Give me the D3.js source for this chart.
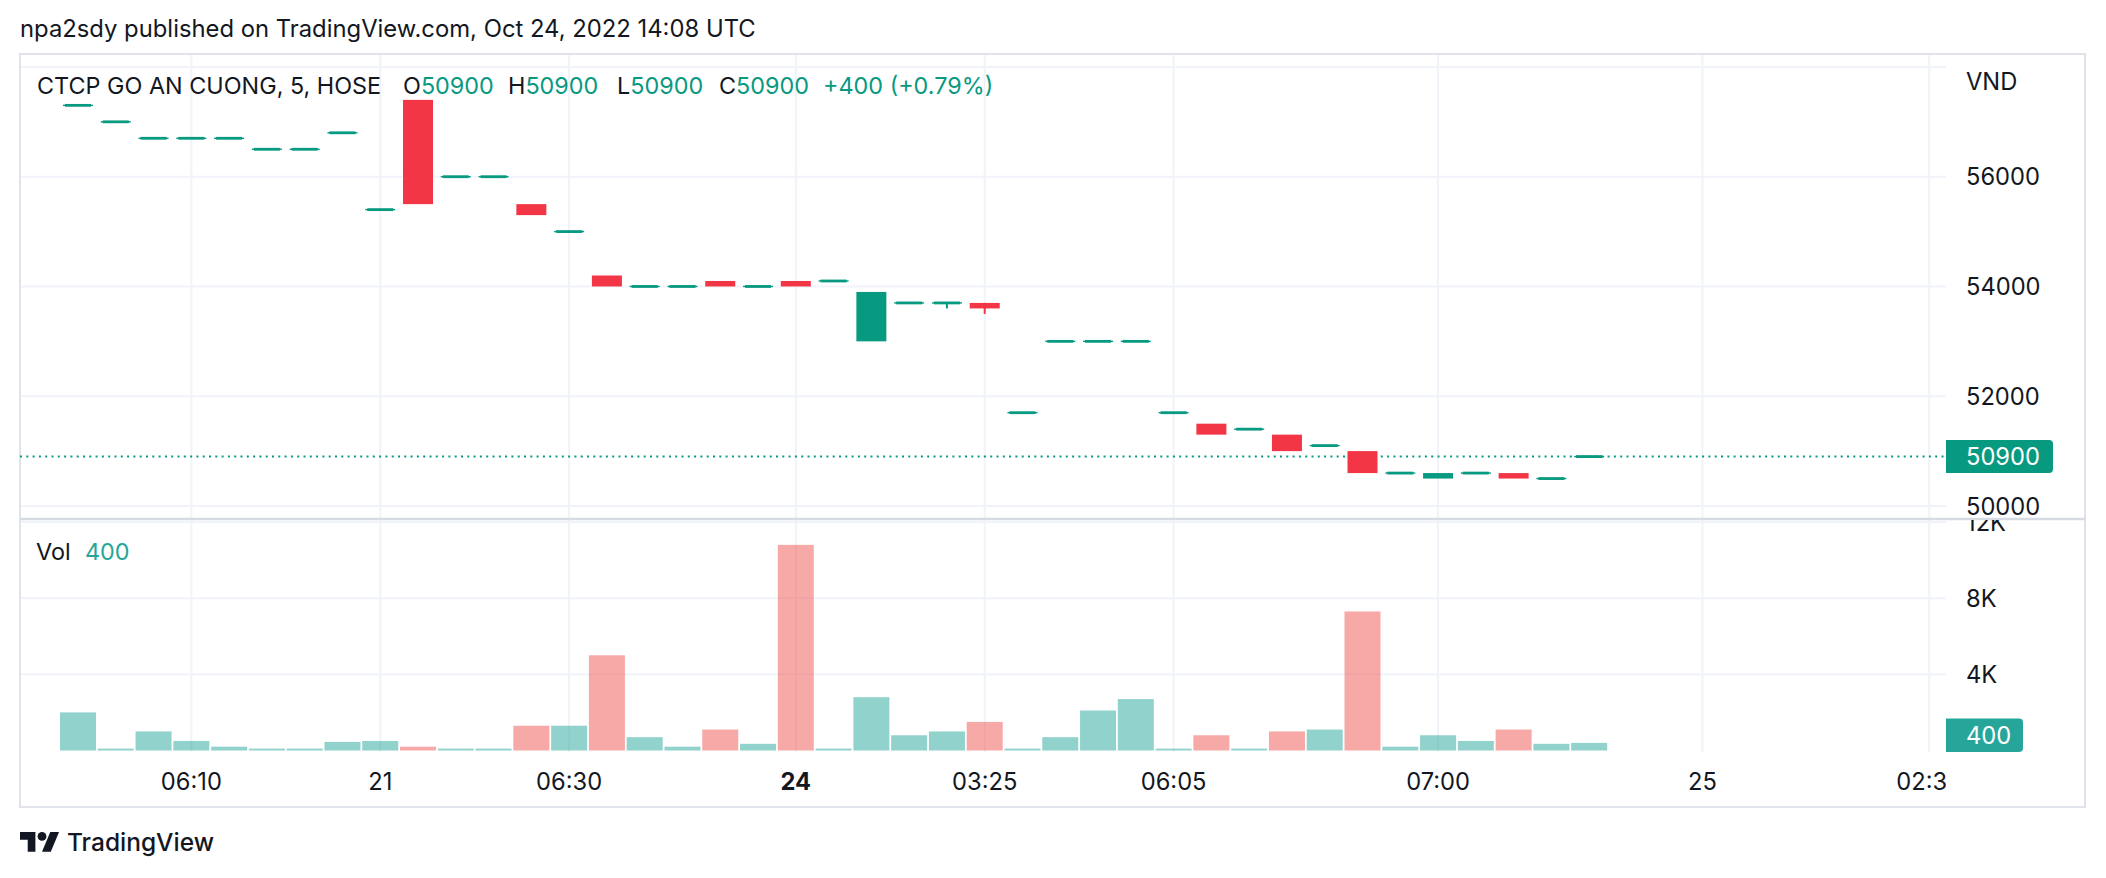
<!DOCTYPE html>
<html><head><meta charset="utf-8">
<script src="https://cdn.jsdelivr.net/npm/d3@7/dist/d3.min.js"></script>
<style>
body{margin:0;background:#fff;}
svg{display:block;font-family:Inter,"Noto Sans",sans-serif;}
</style>
</head><body>
<svg id="c" width="2106" height="878"></svg>
<script>
// ---------- DATA ----------
const opens  = [57300,57000,56700,56700,56700,56500,56500,56800,55400,57400,56000,56000,55500,55000,54200,54000,54000,54100,54000,54100,54100,53000,53700,53700,53700,51700,53000,53000,53000,51700,51500,51400,51300,51100,51000,50600,50500,50600,50600,50500,50900];
const highs  = [57300,57000,56700,56700,56700,56500,56500,56800,55400,57400,56000,56000,55500,55000,54200,54000,54000,54100,54000,54100,54100,53900,53700,53700,53700,51700,53000,53000,53000,51700,51500,51400,51300,51100,51000,50600,50600,50600,50600,50500,50900];
const lows   = [57300,57000,56700,56700,56700,56500,56500,56800,55400,55500,56000,56000,55300,55000,54000,54000,54000,54000,54000,54000,54100,53000,53700,53600,53500,51700,53000,53000,53000,51700,51300,51400,51000,51100,50600,50600,50500,50600,50500,50500,50900];
const closes = [57300,57000,56700,56700,56700,56500,56500,56800,55400,55500,56000,56000,55300,55000,54000,54000,54000,54000,54000,54000,54100,53900,53700,53700,53600,51700,53000,53000,53000,51700,51300,51400,51000,51100,50600,50600,50600,50600,50500,50500,50900];
const volumes = [2000,100,1000,500,200,100,100,450,500,200,100,100,1300,1300,5000,700,200,1100,350,10800,100,2800,800,1000,1500,100,700,2100,2700,100,800,100,1000,1100,7300,200,800,500,1100,350,400];

const timeTickIndex  = [3,8,13,19,24,29,36,43,49];
const timeTickLabels = ["06:10","21","06:30","24","03:25","06:05","07:00","25","02:30"];
const timeTickBold   = [false,false,false,true,false,false,false,false,false];
const priceTicks  = [50000,52000,54000,56000,58000];
const priceTickLabels = ["50000","52000","54000","56000",""];
const volumeTicks = [4000,8000,12000];
const volumeTickLabels = ["4K","8K","12K"];

const titleText = "npa2sdy published on TradingView.com, Oct 24, 2022 14:08 UTC";
const symbolText = "CTCP GO AN CUONG, 5, HOSE";
const lastPrice = 50900, lastVolume = 400, changeText = "+400 (+0.79%)";

// ---------- LAYOUT ----------
const UP="#089981", DOWN="#F23645", TXT="#131722";
const VUP="rgba(38,166,154,0.5)", VDOWN="rgba(239,83,80,0.5)";
const GRID="#F0F3FA", BORDER="#E0E3EB";
const L=20, R=2085, AX=1946, TOP=54, SEP=519, VBOT=752, BOT=807;

const svg = d3.select("#c");

function measure(str, size, weight){
  const t = svg.append("text").attr("font-size",size).attr("font-weight",weight||400).text(str);
  const w = t.node().getComputedTextLength(); t.remove(); return w;
}
const axisSize   = 24*74/measure("56000",24);
const legendSize = 22*73/measure("50900",22);
const titleSize  = 21*736/measure(titleText,21);
const logoSize   = 24*147/measure("TradingView",24,500);

const x  = d3.scaleLinear().domain([0,49]).range([78,1929.2]);
const yP = d3.scaleLinear().domain([50000,56000]).range([506,176.7]);
const yV = d3.scaleLinear().domain([0,12000]).range([750.5,522]);

const defs = svg.append("defs");
defs.append("clipPath").attr("id","cp").append("rect").attr("x",L).attr("y",TOP).attr("width",AX-L).attr("height",SEP-TOP);
defs.append("clipPath").attr("id","cv").append("rect").attr("x",L).attr("y",SEP+1).attr("width",AX-L).attr("height",VBOT-SEP-1);
defs.append("clipPath").attr("id","cva").append("rect").attr("x",AX).attr("y",SEP+1).attr("width",R-AX).attr("height",VBOT-SEP-1);
defs.append("clipPath").attr("id","ct").append("rect").attr("x",L).attr("y",VBOT).attr("width",AX-L).attr("height",BOT-VBOT);

// title
svg.append("text").attr("x",20).attr("y",37).attr("font-size",titleSize).attr("fill",TXT).text(titleText);

// grids
const gp = svg.append("g").attr("clip-path","url(#cp)");
gp.selectAll("line").data(priceTicks).join("line")
  .attr("x1",L).attr("x2",AX).attr("y1",d=>yP(d)).attr("y2",d=>yP(d))
  .attr("stroke",GRID).attr("stroke-width",2);
const gv = svg.append("g").attr("clip-path","url(#cv)");
gv.selectAll("line").data(volumeTicks).join("line")
  .attr("x1",L).attr("x2",AX).attr("y1",d=>yV(d)).attr("y2",d=>yV(d))
  .attr("stroke",GRID).attr("stroke-width",2);
svg.append("g").selectAll("line").data(timeTickIndex).join("line")
  .attr("x1",d=>x(d)).attr("x2",d=>x(d)).attr("y1",TOP).attr("y2",VBOT)
  .attr("stroke",GRID).attr("stroke-width",2);

// frame & separator
svg.append("rect").attr("x",L).attr("y",TOP).attr("width",R-L).attr("height",BOT-TOP)
  .attr("fill","none").attr("stroke",BORDER).attr("stroke-width",2);
svg.append("line").attr("x1",L).attr("x2",R).attr("y1",SEP).attr("y2",SEP)
  .attr("stroke","#D6DAE2").attr("stroke-width",2.5);

// last price dotted line
svg.append("line").attr("x1",L).attr("x2",AX).attr("y1",yP(lastPrice)).attr("y2",yP(lastPrice))
  .attr("stroke",UP).attr("stroke-width",2).attr("stroke-dasharray","2,4.3");

// candles
const idx = d3.range(opens.length);
const cg = svg.append("g").attr("clip-path","url(#cp)");
idx.forEach(i=>{
  const o=opens[i],h=highs[i],l=lows[i],c=closes[i];
  const col = c>=o?UP:DOWN, cx=x(i);
  if(o===c && h===o && l===o){
    cg.append("rect").attr("x",cx-15).attr("y",yP(o)-0.7).attr("width",30).attr("height",1.4).attr("fill",col);
    cg.append("rect").attr("x",cx-13).attr("y",yP(o)-1.4).attr("width",26).attr("height",2.8).attr("fill",col);
    return;
  }
  if(h>Math.max(o,c) || l<Math.min(o,c)){
    cg.append("rect").attr("x",cx-1).attr("y",yP(h)).attr("width",2).attr("height",yP(l)-yP(h)).attr("fill",col);
  }
  if(o===c){
    cg.append("rect").attr("x",cx-15).attr("y",yP(o)-0.7).attr("width",30).attr("height",1.4).attr("fill",col);
    cg.append("rect").attr("x",cx-13).attr("y",yP(o)-1.4).attr("width",26).attr("height",2.8).attr("fill",col);
  } else {
    const t=yP(Math.max(o,c)), b=yP(Math.min(o,c));
    cg.append("rect").attr("x",cx-15).attr("y",t).attr("width",30).attr("height",b-t).attr("fill",col);
  }
});

// volume bars
svg.append("g").attr("clip-path","url(#cv)").selectAll("rect").data(idx).join("rect")
  .attr("x",i=>x(i)-18).attr("width",36)
  .attr("y",i=>yV(volumes[i])).attr("height",i=>yV(0)-yV(volumes[i]))
  .attr("fill",i=>closes[i]>=opens[i]?VUP:VDOWN);

// price axis labels
svg.append("text").attr("x",1966).attr("y",81.5).attr("dy","0.36em").attr("font-size",axisSize).attr("fill",TXT).text("VND");
svg.append("g").selectAll("text").data(priceTicks.filter((d,i)=>priceTickLabels[i])).join("text")
  .attr("x",1966).attr("y",d=>yP(d)).attr("dy","0.36em").attr("font-size",axisSize).attr("fill",TXT)
  .text(d=>priceTickLabels[priceTicks.indexOf(d)]);
// volume axis labels
svg.append("g").attr("clip-path","url(#cva)").selectAll("text").data(volumeTicks).join("text")
  .attr("x",1966).attr("y",d=>yV(d)).attr("dy","0.36em").attr("font-size",axisSize).attr("fill",TXT)
  .text((d,i)=>volumeTickLabels[i]);

function tagPath(x0,y0,w,h,r){
  return `M${x0},${y0}H${x0+w-r}Q${x0+w},${y0} ${x0+w},${y0+r}V${y0+h-r}Q${x0+w},${y0+h} ${x0+w-r},${y0+h}H${x0}Z`;
}
// last price tag
const py = yP(lastPrice);
svg.append("path").attr("d",tagPath(AX,py-16.5,107,33,4)).attr("fill",UP);
svg.append("text").attr("x",1966).attr("y",py).attr("dy","0.36em").attr("font-size",axisSize).attr("fill","#fff").text(d3.format("d")(lastPrice));
// last volume tag
const vy = Math.min(yV(lastVolume)-16.8, VBOT-33.6);
svg.append("path").attr("d",tagPath(AX,vy,77,33.6,4)).attr("fill","#26a69a");
svg.append("text").attr("x",1966).attr("y",vy+16.8).attr("dy","0.36em").attr("font-size",axisSize).attr("fill","#fff").text(lastVolume);

// time axis labels
svg.append("g").attr("clip-path","url(#ct)").selectAll("text").data(timeTickIndex).join("text")
  .attr("x",d=>x(d)).attr("y",790).attr("text-anchor","middle").attr("font-size",axisSize)
  .attr("font-weight",(d,i)=>timeTickBold[i]?700:400).attr("fill",TXT)
  .text((d,i)=>timeTickLabels[i]);

// legend
const lg = svg.append("g").attr("font-size",legendSize);
lg.append("text").attr("x",37).attr("y",94).attr("fill",TXT).text(symbolText);
const ohlc = [["O",opens],["H",highs],["L",lows],["C",closes]];
const ohlcX = [403,508,617,719];
ohlc.forEach(([k,arr],j)=>{
  const t = lg.append("text").attr("x",ohlcX[j]).attr("y",94);
  t.append("tspan").attr("fill",TXT).text(k);
  t.append("tspan").attr("fill",UP).text(arr[arr.length-1]);
});
lg.append("text").attr("x",823).attr("y",94).attr("fill",UP).text(changeText);
// volume legend
const vl = svg.append("g").attr("font-size",legendSize);
vl.append("text").attr("x",36).attr("y",560).attr("fill",TXT).text("Vol");
vl.append("text").attr("x",85).attr("y",560).attr("fill","#26a69a").text(volumes[volumes.length-1]);

// TradingView logo
const logo = svg.append("g").attr("transform","translate(20,827.6) scale(1.1)").attr("fill",TXT);
logo.append("path").attr("d","M14 22H7V11H0V4h14v18zM28 22h-8l7.5-18h8L28 22z");
logo.append("circle").attr("cx",20).attr("cy",8).attr("r",4);
svg.append("text").attr("x",67).attr("y",851).attr("font-size",logoSize).attr("font-weight",500).attr("fill",TXT).text("TradingView");
</script>
</body></html>
